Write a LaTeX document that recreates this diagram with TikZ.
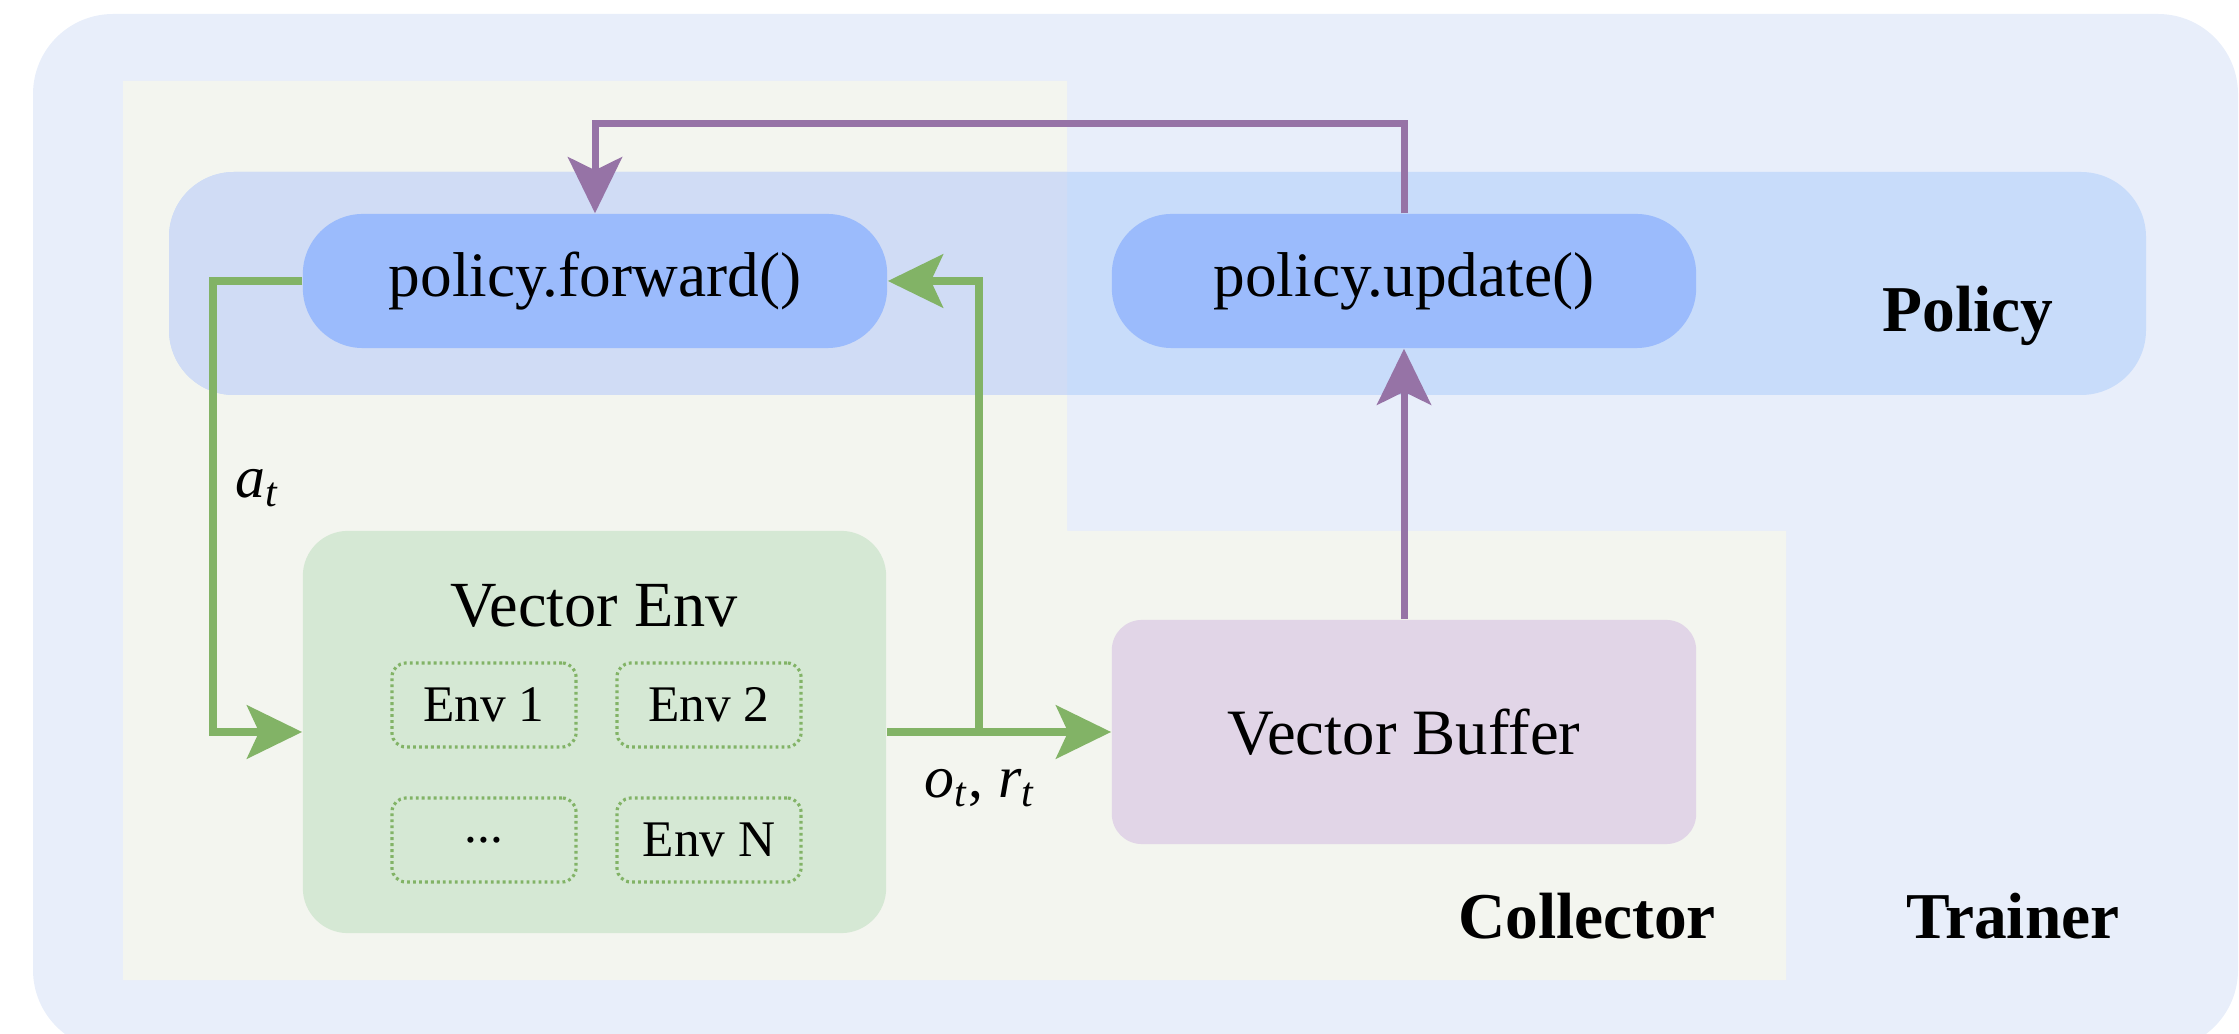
\documentclass[tikz,border=0pt]{standalone}
\usepackage{fontspec}
\setmainfont{Liberation Serif}
\usetikzlibrary{arrows.meta}

\definecolor{trainerbg}{HTML}{E8EEFA}
\definecolor{collectorbg}{HTML}{F3F5EF}
\definecolor{bandtrainer}{HTML}{C8DCFA}
\definecolor{bandcollector}{HTML}{D0DCF5}
\definecolor{callblue}{HTML}{9BBBFC}
\definecolor{envfill}{HTML}{D5E8D4}
\definecolor{buffill}{HTML}{E1D5E7}
\definecolor{flowgreen}{HTML}{82B366}
\definecolor{flowpurple}{HTML}{9673A6}

\tikzset{
  callnode/.style={fill=callblue, rounded corners=0.6cm, minimum width=5.84cm,
    minimum height=1.34cm, inner sep=0pt, font=\fontsize{18}{22}\selectfont},
  envbox/.style={fill=envfill, rounded corners=0.45cm, minimum width=5.83cm,
    minimum height=4.02cm, inner sep=0pt},
  subenv/.style={draw=flowgreen, line width=0.9pt, dash pattern=on 0.8pt off 0.9pt,
    rounded corners=0.14cm, minimum width=1.84cm, minimum height=0.84cm,
    inner sep=0pt, font=\fontsize{14.6}{17}\selectfont},
  bufbox/.style={fill=buffill, rounded corners=0.3cm, minimum width=5.84cm,
    minimum height=2.24cm, inner sep=0pt, font=\fontsize{18.4}{22}\selectfont},
  plaintext/.style={inner sep=0pt, font=\fontsize{18.3}{22}\selectfont},
  grouplabel/.style={inner sep=0pt, anchor=base, font=\fontsize{18.6}{22}\selectfont\bfseries},
  flowlabel/.style={inner sep=0pt, font=\fontsize{17}{20}\selectfont},
  garrow/.style={draw=flowgreen, line width=0.08cm,
    -{Stealth[length=0.55cm, width=0.53cm, inset=0.12cm, fill=flowgreen]}},
  parrow/.style={draw=flowpurple, line width=0.07cm,
    -{Stealth[length=0.56cm, width=0.54cm, inset=0.13cm, fill=flowpurple]}},
}

\begin{document}
\begin{tikzpicture}[x=0.01cm, y=-0.01cm]
\useasboundingbox (0,0) rectangle (2239,1034);

% Trainer container, running off the lower edge
\begin{scope}
  \clip (0,0) rectangle (2239,1034);
  \fill[trainerbg, rounded corners=0.8cm] (33,14) rectangle (2238,1050);
\end{scope}

% Collector region (L-shaped)
\fill[collectorbg] (123,81) -- (1067,81) -- (1067,531) -- (1786,531)
  -- (1786,980) -- (123,980) -- cycle;

% Policy band, tinted differently where it overlaps the collector
\fill[bandtrainer, rounded corners=0.65cm] (169,172) rectangle (2146,395);
\begin{scope}
  \clip (123,81) -- (1067,81) -- (1067,531) -- (1786,531)
    -- (1786,980) -- (123,980) -- cycle;
  \fill[bandcollector, rounded corners=0.65cm] (169,172) rectangle (2146,395);
\end{scope}

% Policy calls
\node[callnode] (fwd) at (595,281) {policy.forward()};
\node[callnode] (upd) at (1404,281) {policy.update()};

% Vector environment with its sub-environments
\node[envbox] (venv) at (594.5,732) {};
\node[plaintext, anchor=base] (venvtitle) at (594,627) {Vector Env};
\node[subenv] (e1) at (484,705) {Env 1};
\node[subenv] (e2) at (709,705) {Env 2};
\node[subenv] (e3) at (484,840) {...};
\node[subenv] (eN) at (709,840) {Env N};

% Buffer
\node[bufbox] (buf) at (1404,732) {Vector Buffer};

% Data flow
\coordinate (split) at (979,732);
\draw[garrow] (fwd.west) -- ++(-89,0) |- (venv.west);
\draw[garrow] (venv.east) -- (buf.west);
\draw[garrow] (split) |- (fwd.east);
\draw[parrow] (buf.north) -- (upd.south);
\draw[parrow] (upd.north) -- ++(0,-90) -| (fwd.north);

% Flow labels
\node[flowlabel] (act) at (258,488) {\textit{a}\textsubscript{\textit{t}}};
\node[flowlabel] (obs) at (980,788) {\textit{o}\textsubscript{\textit{t}}, \textit{r}\textsubscript{\textit{t}}};

% Group labels
\node[grouplabel] (pol) at (1968,332) {Policy};
\node[grouplabel] (col) at (1587,939) {Collector};
\node[grouplabel] (trn) at (2013,939) {Trainer};
\end{tikzpicture}
\end{document}
